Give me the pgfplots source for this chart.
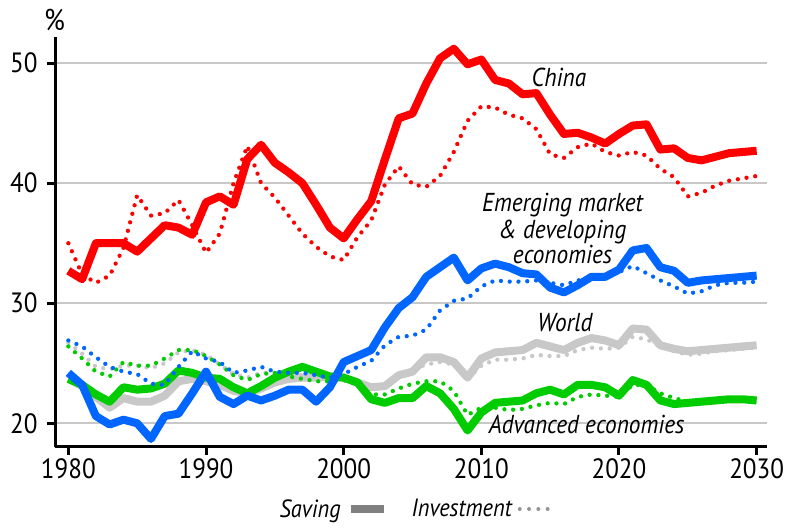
\documentclass[border=0pt]{standalone}
\usepackage{pgfplots}
\pgfplotsset{compat=1.18}
\usepackage{pgfplotstable}
\usepackage{fontspec}
\setmainfont{PT Sans}[FakeStretch=0.9]
\definecolor{cred}{RGB}{255,0,0}
\definecolor{cblue}{RGB}{0,102,255}
\definecolor{cgreen}{RGB}{0,204,0}
\definecolor{cgray}{RGB}{200,200,200}
\definecolor{cgrid}{RGB}{200,200,200}
\definecolor{clegS}{RGB}{128,128,128}
\definecolor{clegI}{RGB}{150,150,150}

\pgfplotstableread{
year chS chI emS emI wS wI aS aI
1980 32.7 35.0 24.2 26.9 23.7 26.7 23.7 26.4
1981 32.0 32.4 23.2 26.4 23.1 25.8 23.2 25.4
1982 35.0 31.7 20.6 25.5 22.2 24.7 22.4 24.3
1983 35.0 32.3 19.9 24.7 21.3 24.5 21.8 23.9
1984 35.0 34.6 20.3 24.3 22.1 24.8 23.0 25.1
1985 34.3 39.0 20.0 24.1 21.8 24.8 22.8 24.8
1986 35.4 37.3 18.7 23.3 21.8 24.6 22.9 24.8
1987 36.5 37.5 20.6 23.2 22.3 25.0 23.3 25.4
1988 36.3 38.6 20.8 24.7 23.5 25.9 24.4 26.1
1989 35.7 36.5 22.5 26.0 23.7 26.1 24.2 26.1
1990 38.4 34.2 24.3 25.4 23.5 25.7 23.8 25.6
1991 38.9 35.8 22.2 25.1 23.2 24.9 23.7 24.9
1992 38.2 40.0 21.6 24.2 22.7 24.1 23.0 24.0
1993 42.0 43.1 22.3 24.4 22.5 23.8 22.5 23.6
1994 43.2 40.0 21.9 24.7 22.9 24.2 23.1 24.1
1995 41.7 38.8 22.3 24.3 23.4 24.2 23.8 24.2
1996 40.9 37.3 22.8 24.2 23.7 24.1 24.3 23.9
1997 40.0 35.8 22.8 24.2 23.8 24.0 24.7 23.7
1998 38.2 34.7 21.8 24.0 23.8 23.8 24.3 23.5
1999 36.3 33.9 23.0 23.8 23.9 23.7 23.9 23.5
2000 35.4 33.6 25.1 24.1 23.8 24.0 23.8 23.6
2001 37.0 35.5 25.6 24.7 23.4 23.4 23.4 23.2
2002 38.5 36.9 26.1 25.2 23.0 22.8 22.0 22.4
2003 42.0 39.9 28.0 26.5 23.1 23.2 21.7 22.4
2004 45.4 41.4 29.6 27.2 24.0 24.0 22.1 22.9
2005 45.8 39.9 30.5 27.3 24.3 24.5 22.1 23.3
2006 48.3 39.7 32.2 27.8 25.5 24.9 23.1 23.5
2007 50.4 40.6 33.0 29.4 25.5 25.1 22.5 23.5
2008 51.2 42.6 33.8 30.2 25.1 24.9 21.2 22.7
2009 49.9 45.2 31.9 30.4 23.8 23.7 19.4 20.7
2010 50.3 46.4 32.9 31.4 25.4 24.8 20.9 21.3
2011 48.6 46.3 33.3 31.9 25.9 25.3 21.7 21.3
2012 48.3 45.7 33.0 31.8 26.0 25.3 21.8 21.1
2013 47.4 45.4 32.5 31.8 26.1 25.4 21.9 21.2
2014 47.5 44.5 32.4 31.9 26.7 25.7 22.5 21.5
2015 45.7 42.4 31.3 31.7 26.4 25.6 22.8 21.7
2016 44.1 42.1 30.9 31.5 26.1 25.6 22.4 21.6
2017 44.2 43.0 31.5 31.9 26.7 26.1 23.2 22.2
2018 43.8 43.3 32.2 32.1 27.1 26.3 23.2 22.4
2019 43.3 42.6 32.2 32.2 26.9 26.2 23.0 22.3
2020 44.1 42.3 32.8 32.6 26.5 26.3 22.3 22.2
2021 44.8 42.6 34.4 33.1 27.9 27.2 23.6 23.2
2022 44.9 42.3 34.6 32.5 27.8 27.0 23.2 23.2
2023 42.8 41.2 33.0 31.9 26.5 26.4 21.9 22.5
2024 42.9 40.5 32.7 31.4 26.2 26.0 21.6 22.1
2025 42.1 38.9 31.7 30.8 26.0 25.7 21.7 21.8
2026 41.9 39.2 31.9 31.0 26.1 25.8 21.8 21.8
2027 42.2 39.8 32.0 31.5 26.2 26.0 21.9 21.9
2028 42.5 40.2 32.1 31.7 26.3 26.1 22.0 21.9
2029 42.6 40.4 32.2 31.7 26.4 26.2 22.0 21.9
2030 42.7 40.6 32.3 31.8 26.5 26.3 21.9 21.8
}\data

\begin{document}
\begin{tikzpicture}
\begin{axis}[
  scale only axis, width=711.7bp, height=410bp,
  xmin=1979.03, xmax=2030.73, ymin=18.05, ymax=52.2,
  axis x line*=bottom, axis y line*=left,
  axis line style={line width=3bp, black},
  xtick={1980,1990,2000,2010,2020,2030}, ytick={20,30,40,50},
  tick align=outside, major tick length=8bp,
  tick style={line width=3bp, black},
  ymajorgrids, major grid style={line width=2bp, cgrid},
  ticklabel style={font=\fontsize{28}{28}\selectfont},
  yticklabel style={xshift=-6bp},
  /pgf/number format/assume math mode=true,
  /pgf/number format/1000 sep={},
  clip=false,
  legend plot pos=right,
  legend columns=2,
  legend style={at={(0.504,-0.152)}, anchor=center, draw=none, fill=none,
    font=\itshape\fontsize{25}{25}\selectfont, column sep=4bp,
    inner sep=0pt, outer sep=0pt},
  every axis plot/.append style={line join=round},
  solid/.style={line width=8bp},
  dots/.style={line width=4.3bp, line cap=round, dash pattern=on 0bp off 8.8bp},
]
\addplot[cgray, solid, forget plot] table[x=year, y=wS] {\data};
\addplot[cgray, dots, forget plot] table[x=year, y=wI] {\data};
\addplot[cgreen, solid, forget plot] table[x=year, y=aS] {\data};
\addplot[cgreen, dots, forget plot] table[x=year, y=aI] {\data};
\addplot[cblue, solid, forget plot] table[x=year, y=emS] {\data};
\addplot[cblue, dots, forget plot] table[x=year, y=emI] {\data};
\addplot[cred, solid, forget plot] table[x=year, y=chS] {\data};
\addplot[cred, dots, forget plot] table[x=year, y=chI] {\data};

\addlegendimage{legend image code/.code={\draw[clegS, line width=8bp] (0bp,0bp) -- (33bp,0bp);}}
\addlegendentry{Saving}
\addlegendimage{legend image code/.code={\draw[clegI, line width=4bp, line cap=round, dash pattern=on 0bp off 9.3bp] (2bp,0bp) -- (30bp,0bp);}}
\addlegendentry{\hspace*{18bp}Investment}

\begin{scope}[every node/.style={font=\itshape\fontsize{26}{26}\selectfont, anchor=base, inner sep=0pt}]
\node at (axis cs:2015.64,48.05) {China};
\node at (axis cs:2015.9,37.63) {Emerging market};
\node at (axis cs:2015.9,35.36) {\& developing};
\node at (axis cs:2015.9,33.33) {economies};
\node at (axis cs:2016.07,27.63) {World};
\node at (axis cs:2017.65,19.17) {Advanced economies};
\end{scope}
\node[anchor=base, inner sep=0pt, font=\fontsize{30}{30}\selectfont] at (axis cs:1979.0,52.7) {\%};
\path (rel axis cs:-0.07728,-0.1983) rectangle (rel axis cs:1.03696,1.08951);
\end{axis}
\end{tikzpicture}
\end{document}
